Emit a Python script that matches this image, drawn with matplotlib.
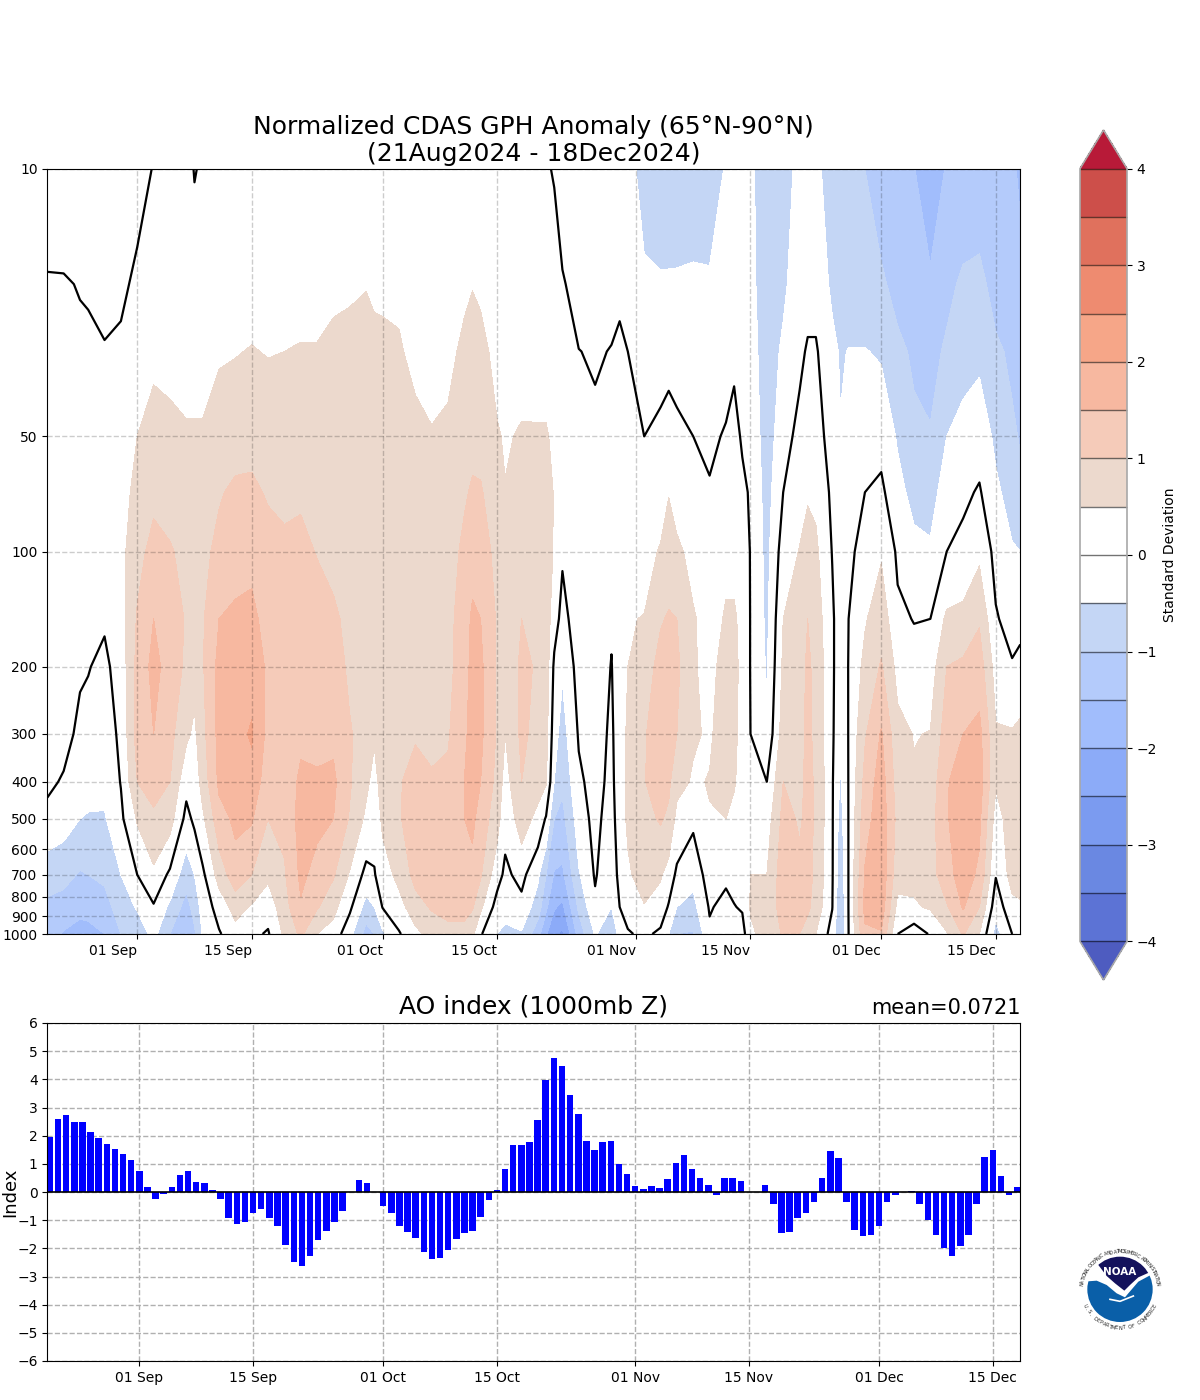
#! /usr/bin/env python
# -*- encoding: utf-8 -*-
import numpy as np
import matplotlib
matplotlib.use("Agg")
import matplotlib.pyplot as plt
from matplotlib.patches import Circle, Polygon

W, H = 1200, 1400

# days since 21 Aug 2024
tick_days = [11, 25, 41, 55, 72, 86, 102, 116]
tick_labels = ["01 Sep", "15 Sep", "01 Oct", "15 Oct", "01 Nov", "15 Nov", "01 Dec", "15 Dec"]

pressure = [10, 20, 30, 50, 70, 100, 150, 200, 300, 400, 500, 700, 850, 1000]
press_ticks = [10, 50, 100, 200, 300, 400, 500, 600, 700, 800, 900, 1000]

days = [0, 2, 4, 5, 7, 9, 11, 13, 15, 17, 18, 19, 21, 23, 25, 27, 29, 31, 33, 35, 37, 39, 40, 41,
        43, 45, 47, 49, 51, 52, 53, 55, 56, 58, 60, 61, 62, 63, 65, 67, 69, 70, 71, 73, 75, 76, 77,
        79, 81, 83, 84, 85, 86, 88, 90, 92, 93, 94, 96, 97, 98, 100, 102, 104, 106, 108, 110,
        112, 114, 116, 118, 119]

# one row per entry of days, one value per pressure level
anom_by_day = [
    [-0.3, 0.05, 0.15, 0.2, 0.25, 0.3, 0.35, 0.3, 0.2, 0.1, -0.15, -0.8, -1.1, -1.3],
    [-0.35, 0.05, 0.15, 0.2, 0.25, 0.3, 0.35, 0.3, 0.15, -0.05, -0.3, -0.85, -1.2, -1.55],
    [-0.4, -0.03, 0.12, 0.15, 0.2, 0.25, 0.15, 0.05, -0.1, -0.3, -0.5, -1.05, -1.35, -1.7],
    [-0.42, -0.05, 0.1, 0.15, 0.2, 0.2, 0.1, 0.02, -0.15, -0.3, -0.55, -1.0, -1.35, -1.65],
    [-0.45, -0.2, 0.05, 0.2, 0.25, 0.2, 0.05, -0.1, -0.25, -0.35, -0.55, -0.9, -1.2, -1.5],
    [-0.4, -0.1, 0.1, 0.25, 0.3, 0.35, 0.3, 0.2, 0.1, 0.02, -0.1, -0.5, -0.75, -1.0],
    [-0.15, 0.1, 0.3, 0.5, 0.65, 0.85, 1.05, 1.15, 1.2, 1.0, 0.55, 0.0, -0.45, -0.8],
    [0.02, 0.2, 0.4, 0.7, 0.9, 1.15, 1.5, 1.65, 1.5, 1.2, 0.9, 0.4, -0.05, -0.35],
    [0.1, 0.25, 0.4, 0.6, 0.8, 1.05, 1.3, 1.3, 1.15, 1.0, 0.7, -0.1, -0.6, -1.0],
    [0.15, 0.25, 0.35, 0.55, 0.7, 0.85, 0.95, 0.9, 0.6, 0.15, -0.15, -0.8, -1.2, -1.5],
    [-0.02, 0.22, 0.35, 0.55, 0.7, 0.85, 0.85, 0.65, 0.4, 0.2, 0.1, -0.5, -0.8, -1.1],
    [0.05, 0.2, 0.35, 0.55, 0.7, 0.85, 0.95, 0.95, 0.85, 0.7, 0.4, -0.1, -0.3, -0.45],
    [0.15, 0.3, 0.45, 0.75, 0.95, 1.15, 1.5, 1.65, 1.65, 1.6, 1.3, 0.7, 0.2, -0.05],
    [0.2, 0.35, 0.48, 0.8, 1.1, 1.3, 1.6, 1.75, 1.85, 1.7, 1.6, 1.3, 0.7, 0.3],
    [0.2, 0.35, 0.52, 0.85, 1.1, 1.4, 1.6, 1.85, 2.05, 1.85, 1.55, 1.0, 0.45, 0.1],
    [0.2, 0.35, 0.48, 0.8, 0.95, 1.2, 1.35, 1.4, 1.35, 1.2, 1.0, 0.6, 0.2, -0.05],
    [0.2, 0.35, 0.5, 0.75, 0.9, 1.1, 1.25, 1.3, 1.3, 1.2, 1.1, 0.95, 0.8, 0.6],
    [0.25, 0.4, 0.52, 0.8, 0.95, 1.1, 1.3, 1.35, 1.4, 1.6, 1.7, 1.6, 1.45, 1.1],
    [0.25, 0.4, 0.52, 0.75, 0.9, 0.98, 1.2, 1.3, 1.4, 1.55, 1.6, 1.35, 1.05, 0.5],
    [0.3, 0.42, 0.6, 0.75, 0.85, 0.85, 1.1, 1.25, 1.4, 1.6, 1.5, 1.05, 0.65, 0.3],
    [0.3, 0.45, 0.62, 0.75, 0.8, 0.8, 0.85, 0.9, 1.05, 1.05, 0.95, 0.45, 0.1, -0.35],
    [0.35, 0.48, 0.7, 0.8, 0.75, 0.7, 0.7, 0.7, 0.75, 0.6, 0.4, -0.15, -0.7, -1.2],
    [0.3, 0.47, 0.55, 0.72, 0.72, 0.7, 0.7, 0.68, 0.55, 0.35, 0.15, -0.03, -0.5, -1.0],
    [0.3, 0.47, 0.54, 0.7, 0.75, 0.75, 0.75, 0.75, 0.75, 0.7, 0.6, 0.25, 0.02, -0.6],
    [0.3, 0.42, 0.55, 0.7, 0.75, 0.8, 0.8, 0.8, 0.9, 0.95, 0.95, 0.65, 0.3, -0.05],
    [0.2, 0.3, 0.38, 0.65, 0.75, 0.8, 0.85, 0.9, 0.95, 1.2, 1.25, 1.15, 0.8, 0.35],
    [0.1, 0.25, 0.35, 0.53, 0.65, 0.75, 0.8, 0.85, 0.9, 1.05, 1.15, 1.2, 1.05, 0.7],
    [0.15, 0.25, 0.38, 0.6, 0.7, 0.8, 0.85, 0.85, 0.95, 1.1, 1.2, 1.3, 1.15, 0.85],
    [0.25, 0.42, 0.6, 0.8, 0.95, 1.1, 1.25, 1.3, 1.4, 1.5, 1.5, 1.35, 1.1, 0.9],
    [0.3, 0.48, 0.72, 0.9, 1.05, 1.3, 1.6, 1.65, 1.7, 1.65, 1.6, 1.35, 1.05, 0.6],
    [0.25, 0.42, 0.65, 0.85, 1.05, 1.25, 1.5, 1.6, 1.6, 1.5, 1.3, 1.05, 0.6, 0.05],
    [0.1, 0.25, 0.35, 0.55, 0.7, 0.85, 0.95, 0.95, 0.95, 0.85, 0.7, 0.2, -0.2, -0.5],
    [0.1, 0.2, 0.3, 0.45, 0.52, 0.65, 0.65, 0.6, 0.5, 0.3, 0.15, -0.1, -0.35, -0.6],
    [0.1, 0.2, 0.32, 0.55, 0.7, 0.8, 1.0, 1.1, 1.1, 1.0, 0.75, 0.15, -0.15, -0.55],
    [0.05, 0.2, 0.3, 0.55, 0.7, 0.8, 0.95, 0.95, 0.85, 0.7, 0.35, -0.4, -0.75, -1.3],
    [0.03, 0.18, 0.3, 0.55, 0.7, 0.75, 0.8, 0.8, 0.7, 0.55, -0.05, -1.0, -1.4, -1.95],
    [-0.02, 0.15, 0.3, 0.4, 0.47, 0.45, 0.2, -0.1, -0.3, -0.5, -1.0, -1.55, -1.95, -2.4],
    [-0.25, 0.05, 0.2, 0.25, 0.2, 0.05, -0.15, -0.45, -0.7, -0.9, -1.15, -1.6, -2.1, -2.6],
    [-0.3, -0.2, 0.01, 0.1, 0.15, 0.2, 0.25, 0.2, 0.05, -0.1, -0.25, -0.55, -0.9, -1.3],
    [-0.35, -0.25, -0.05, 0.1, 0.15, 0.2, 0.25, 0.3, 0.25, 0.2, 0.15, 0.05, -0.1, -0.45],
    [-0.4, -0.15, 0.02, 0.15, 0.2, 0.15, 0.05, -0.02, -0.1, -0.15, -0.25, -0.4, -0.5, -0.85],
    [-0.4, -0.1, 0.1, 0.2, 0.25, 0.25, 0.3, 0.3, 0.35, 0.35, 0.35, 0.2, 0.0, -0.35],
    [-0.4, -0.3, 0.0, 0.2, 0.3, 0.35, 0.47, 0.5, 0.55, 0.55, 0.55, 0.45, 0.2, -0.05],
    [-0.6, -0.45, -0.25, 0.0, 0.15, 0.3, 0.52, 0.7, 0.95, 0.97, 0.85, 0.65, 0.48, 0.1],
    [-0.9, -0.42, -0.15, 0.1, 0.25, 0.55, 0.95, 1.2, 1.3, 1.3, 1.05, 0.55, 0.3, -0.1],
    [-0.88, -0.42, -0.1, 0.15, 0.48, 0.75, 1.05, 1.25, 1.25, 1.1, 0.9, 0.3, -0.05, -0.5],
    [-0.85, -0.42, -0.15, 0.1, 0.3, 0.6, 1.0, 1.1, 1.0, 0.65, 0.35, -0.1, -0.5, -1.0],
    [-0.8, -0.4, -0.2, 0.0, 0.15, 0.35, 0.55, 0.55, 0.55, 0.45, 0.1, -0.35, -0.65, -1.05],
    [-0.8, -0.42, -0.25, -0.1, 0.05, 0.2, 0.3, 0.35, 0.45, 0.52, 0.48, 0.25, 0.05, -0.1],
    [-0.45, -0.35, -0.2, 0.05, 0.2, 0.4, 0.55, 0.7, 0.7, 0.6, 0.5, 0.1, -0.15, -0.45],
    [-0.42, -0.3, -0.07, 0.13, 0.25, 0.4, 0.55, 0.6, 0.6, 0.55, 0.35, 0.15, -0.02, -0.35],
    [-0.4, -0.3, -0.2, -0.05, 0.1, 0.25, 0.4, 0.4, 0.35, 0.3, 0.25, 0.15, 0.05, -0.2],
    [-0.35, -0.3, -0.25, -0.15, -0.05, -0.02, -0.02, -0.02, 0.0, 0.15, 0.3, 0.5, 0.55, 0.4],
    [-0.95, -0.9, -0.8, -0.75, -0.7, -0.65, -0.6, -0.55, -0.4, 0.0, 0.25, 0.5, 0.7, 0.7],
    [-0.8, -0.6, -0.4, -0.2, 0.0, 0.25, 0.5, 0.6, 0.75, 1.0, 1.15, 1.3, 1.2, 1.05],
    [-0.3, -0.2, -0.1, 0.15, 0.35, 0.52, 0.7, 0.75, 0.85, 0.9, 0.95, 1.1, 1.05, 1.0],
    [-0.3, -0.15, 0.05, 0.25, 0.45, 0.7, 1.0, 1.1, 1.1, 1.1, 1.1, 1.15, 1.1, 0.75],
    [-0.3, -0.15, 0.05, 0.2, 0.4, 0.6, 0.75, 0.85, 0.9, 0.95, 0.95, 0.9, 0.8, 0.5],
    [-0.9, -0.6, -0.35, -0.2, -0.1, -0.02, 0.1, 0.1, 0.08, 0.05, 0.05, 0.05, 0.02, -0.2],
    [-0.85, -0.7, -0.55, -0.47, -0.42, -0.38, -0.35, -0.35, -0.4, -0.55, -0.7, -0.85, -0.95, -1.05],
    [-0.9, -0.75, -0.48, -0.4, -0.3, -0.15, 0.0, 0.02, 0.02, 0.02, 0.02, 0.02, 0.02, 0.0],
    [-1.0, -0.75, -0.48, -0.15, 0.0, 0.25, 0.45, 0.65, 0.95, 1.15, 1.3, 1.55, 1.65, 1.4],
    [-1.3, -0.9, -0.55, -0.15, 0.1, 0.45, 0.8, 1.05, 1.55, 1.75, 1.8, 1.85, 1.8, 1.45],
    [-1.35, -1.2, -0.85, -0.55, -0.35, -0.08, 0.1, 0.35, 0.65, 0.75, 0.85, 0.7, 0.35, 0.0],
    [-1.48, -1.35, -1.1, -0.85, -0.65, -0.35, -0.02, 0.2, 0.48, 0.55, 0.65, 0.6, 0.45, -0.3],
    [-1.85, -1.4, -1.2, -0.95, -0.7, -0.42, 0.0, 0.25, 0.52, 0.7, 0.8, 0.8, 0.55, 0.05],
    [-1.45, -1.15, -0.9, -0.5, -0.25, 0.0, 0.6, 1.0, 1.25, 1.45, 1.45, 1.3, 0.95, 0.45],
    [-1.35, -0.9, -0.7, -0.3, -0.1, 0.15, 0.65, 1.1, 1.5, 1.8, 1.85, 1.75, 1.55, 1.05],
    [-1.3, -0.85, -0.6, -0.2, 0.05, 0.4, 0.95, 1.25, 1.65, 1.75, 1.6, 1.4, 1.0, 0.5],
    [-1.4, -1.2, -0.9, -0.6, -0.4, -0.15, 0.05, 0.3, 0.55, 0.55, 0.3, 0.03, -0.3, -0.7],
    [-1.45, -1.3, -1.1, -0.9, -0.7, -0.45, -0.2, 0.05, 0.55, 0.7, 0.75, 0.7, 0.35, 0.0],
    [-1.55, -1.4, -1.2, -1.05, -0.85, -0.5, -0.1, 0.1, 0.65, 0.85, 0.85, 0.65, 0.45, 0.1],
]

# AO index, one value per day from 21 Aug
ao_index = [1.95, 2.58, 2.75, 2.5, 2.47, 2.12, 1.91, 1.70, 1.52, 1.35, 1.13, 0.75, 0.18, -0.24,
            -0.06, 0.18, 0.6, 0.75, 0.36, 0.33, 0.08, -0.24, -0.92, -1.15, -1.08, -0.76, -0.59,
            -0.94, -1.19, -1.89, -2.49, -2.63, -2.28, -1.71, -1.40, -1.08, -0.69, 0.0, 0.43, 0.33,
            0.0, -0.48, -0.76, -1.19, -1.43, -1.64, -2.14, -2.38, -2.35, -2.07, -1.68, -1.47,
            -1.40, -0.87, -0.27, 0.08, 0.82, 1.67, 1.67, 1.77, 2.55, 3.96, 4.77, 4.48, 3.43, 2.76,
            1.81, 1.49, 1.77, 1.81, 1.0, 0.65, 0.22, 0.12, 0.22, 0.15, 0.47, 1.03, 1.31, 0.82, 0.5,
            0.26, -0.09, 0.5, 0.5, 0.4, 0.0, 0.0, 0.26, -0.41, -1.47, -1.43, -0.94, -0.76, -0.34,
            0.5, 1.46, 1.21, -0.34, -1.36, -1.57, -1.54, -1.22, -0.34, -0.09, 0.0, 0.05, -0.41,
            -1.01, -1.54, -2.0, -2.28, -1.92, -1.54, -0.41, 1.24, 1.49, 0.58, -0.09, 0.19]
ao_mean = "mean=0.0721"

levels = np.arange(-4, 4.5, 0.5)
# under, 16 bands from -4 to 4, over
band_colors = ["#4e5cc0", "#5c73d5", "#6a88e2", "#7b9bf0", "#8cabf8", "#a1bdfc", "#b4cbfb", "#c4d6f5",
               "#ffffff", "#ffffff", "#ecd9cd", "#f5cbb9", "#f7b8a0", "#f6a688", "#ee8b70", "#e0715d",
               "#cd4f4a", "#b81a38"]


def axes_rect(left, top, right, bottom):
    return [left / W, 1 - bottom / H, (right - left) / W, (bottom - top) / H]


z = np.array(anom_by_day).T
fig = plt.figure(figsize=(12, 14), dpi=100)

ax = fig.add_axes(axes_rect(47.3, 169, 1020.3, 934))
cf = ax.contourf(days, pressure, z, levels=levels, colors=band_colors, extend="both")
ax.contour(days, pressure, z, levels=[0], colors="k", linewidths=1.6)
ax.set_yscale("log")
ax.set_ylim(1000, 10)
ax.set_xlim(0, 119)
ax.minorticks_off()
ax.set_yticks(press_ticks)
ax.set_yticklabels([str(p) for p in press_ticks], fontsize=10)
ax.set_xticks(tick_days)
ax.set_xticklabels(tick_labels, ha="right", fontsize=10)
ax.grid(True, color="k", alpha=0.2, linestyle="--", linewidth=1)
ax.set_axisbelow(False)
ax.set_title("Normalized CDAS GPH Anomaly (65°N-90°N)\n(21Aug2024 - 18Dec2024)", fontsize=18, pad=6, linespacing=1.15)

# the triangles are drawn inside the axes, so it runs from tip to tip
cax = fig.add_axes(axes_rect(1080, 130, 1127, 980))
cb = fig.colorbar(cf, cax=cax, ticks=np.arange(-4, 5), drawedges=True)
cb.outline.set_edgecolor("#a8a8a8")
cb.outline.set_linewidth(1.2)
cb.dividers.set_color("k")
cb.dividers.set_alpha(0.55)
cb.dividers.set_linewidth(1)
cb.set_label("Standard Deviation", fontsize=10, labelpad=4)
cb.ax.tick_params(labelsize=10)

ax2 = fig.add_axes(axes_rect(47.3, 1023, 1020.3, 1361))
ax2.grid(True, color="#b0b0b0", linestyle="--", linewidth=1)
ax2.set_axisbelow(True)
ax2.bar(np.arange(len(ao_index)), ao_index, width=0.8, color="#0000ff")
ax2.axhline(0, color="k", linewidth=1.2)
ax2.set_xlim(-0.32, 119.38)
ax2.set_ylim(-6, 6)
ax2.set_yticks(np.arange(-6, 7))
ax2.tick_params(axis="y", labelsize=10)
ax2.set_xticks(tick_days)
ax2.set_xticklabels(tick_labels, fontsize=10)
ax2.set_ylabel("Index", fontsize=13, labelpad=0)
ax2.yaxis.set_label_coords(-0.0285, 0.5)
ax2.set_title("AO index (1000mb Z)", fontsize=18, pad=7)
ax2.text(1.0, 1.014, ao_mean, transform=ax2.transAxes, ha="right", va="bottom", fontsize=15)

# NOAA emblem
lg = fig.add_axes(axes_rect(1070, 1240, 1170, 1340))
lg.set_xlim(0, 300)
lg.set_ylim(300, 0)
lg.axis("off")
disc = Circle((150, 148), 98, facecolor="white", edgecolor="none")
lg.add_patch(disc)
navy = Polygon([(60, 40), (240, 40), (250, 92), (205, 112), (180, 135), (163, 152), (135, 130),
                (110, 108), (85, 75)], closed=True, facecolor="#14125c", edgecolor="none")
lg.add_patch(navy)
navy.set_clip_path(disc)
blue = Polygon([(40, 125), (80, 122), (110, 135), (140, 160), (165, 172), (175, 160), (205, 125),
                (255, 98), (270, 220), (150, 270), (30, 220)], closed=True, facecolor="#0a5fa8", edgecolor="none")
lg.add_patch(blue)
blue.set_clip_path(disc)
lg.plot([120, 150, 190], [178, 184, 168], color="white", linewidth=1.2)
lg.text(150, 97, "NOAA", color="white", fontsize=7.5, fontweight="bold", ha="center", va="center")

for txt, a0, a1, r, rot_off in [("NATIONAL OCEANIC AND ATMOSPHERIC ADMINISTRATION", 172, 8, 113, -90),
                                ("U.S. DEPARTMENT OF COMMERCE", 205, 335, 116, -270)]:
    for ch, ang in zip(txt, np.linspace(a0, a1, len(txt))):
        t = np.radians(ang)
        lg.text(150 + r * np.cos(t), 148 - r * np.sin(t), ch, fontsize=3.6, ha="center", va="center",
                rotation=ang + rot_off, color="#222222")

fig.savefig("out.png", dpi=100)
